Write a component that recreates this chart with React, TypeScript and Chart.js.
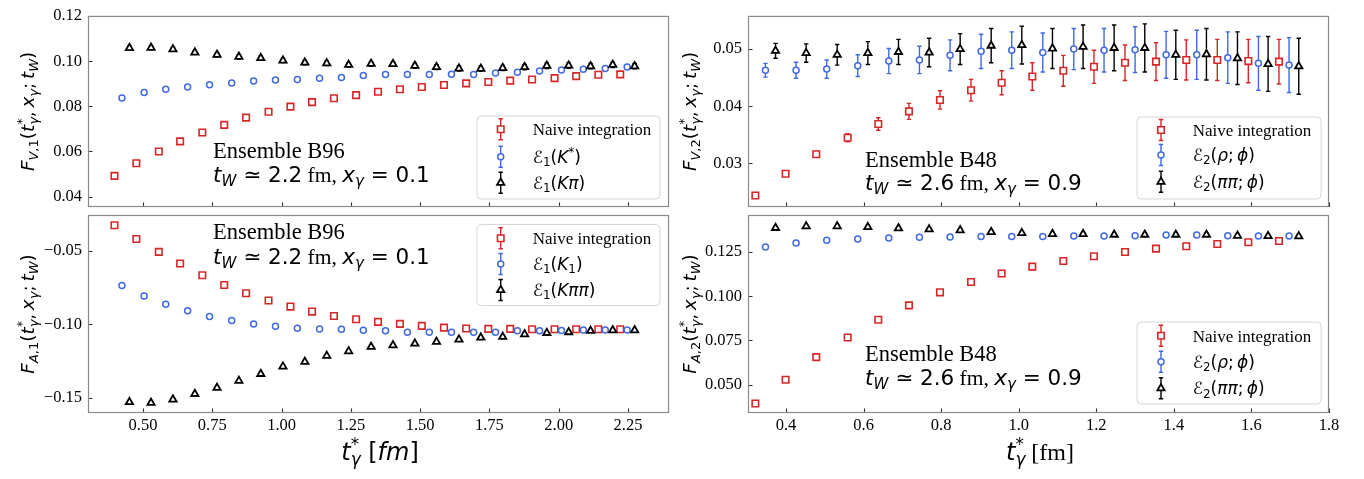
import React, { useEffect, useRef } from 'react';
import { Chart, registerables } from 'chart.js';

Chart.register(...registerables);

const W = 1364;
const H = 479;
const RED = '#d62728';
const BLUE = '#4169e1';
const BLACK = '#000000';

// ---------------- x positions t*_gamma [fm] ----------------
const tNaiveB96 = [0.397, 0.476, 0.557, 0.634, 0.714, 0.793, 0.872, 0.953, 1.032, 1.110, 1.189, 1.269, 1.348, 1.427, 1.506, 1.586, 1.666, 1.746, 1.825, 1.904, 1.985, 2.063, 2.143, 2.222];
const tPoleB96 = [0.424, 0.504, 0.582, 0.661, 0.740, 0.820, 0.899, 0.978, 1.057, 1.137, 1.216, 1.295, 1.375, 1.454, 1.533, 1.613, 1.693, 1.772, 1.851, 1.931, 2.010, 2.089, 2.168, 2.247];
const tMultiB96 = [0.451, 0.529, 0.608, 0.687, 0.767, 0.846, 0.925, 1.005, 1.084, 1.163, 1.242, 1.323, 1.402, 1.481, 1.559, 1.640, 1.719, 1.798, 1.877, 1.957, 2.036, 2.115, 2.195, 2.274];
const tNaiveB48 = [0.321, 0.399, 0.478, 0.559, 0.638, 0.717, 0.797, 0.877, 0.956, 1.035, 1.115, 1.194, 1.274, 1.354, 1.432, 1.512, 1.592, 1.671];
const tPoleB48 = [0.347, 0.426, 0.505, 0.585, 0.665, 0.744, 0.823, 0.903, 0.982, 1.062, 1.142, 1.220, 1.300, 1.380, 1.459, 1.539, 1.618, 1.697];
const tMultiB48 = [0.373, 0.452, 0.532, 0.611, 0.690, 0.769, 0.849, 0.929, 1.008, 1.087, 1.166, 1.246, 1.325, 1.405, 1.484, 1.564, 1.643, 1.722];

// ---------------- F_V,1 (B96) ----------------
const fV1Naive = [0.0492, 0.0548, 0.0600, 0.0645, 0.0684, 0.0718, 0.0750, 0.0776, 0.0799, 0.0819, 0.0836, 0.0850, 0.0865, 0.0876, 0.0886, 0.0895, 0.0902, 0.0908, 0.0914, 0.0919, 0.0925, 0.0934, 0.0940, 0.0942];
const fV1NaiveErr = [0.0003, 0.0003, 0.0003, 0.0004, 0.0004, 0.0004, 0.0004, 0.0004, 0.0004, 0.0004, 0.0004, 0.0005, 0.0005, 0.0005, 0.0005, 0.0005, 0.0005, 0.0005, 0.0005, 0.0005, 0.0005, 0.0005, 0.0005, 0.0005];
const fV1Kstar = [0.0837, 0.0862, 0.0876, 0.0886, 0.0896, 0.0904, 0.0912, 0.0917, 0.0919, 0.0925, 0.0928, 0.0937, 0.0941, 0.0941, 0.0941, 0.0942, 0.0941, 0.0948, 0.0951, 0.0957, 0.0961, 0.0964, 0.0968, 0.0974];
const fV1KstarErr = [0.0005, 0.0005, 0.0005, 0.0005, 0.0005, 0.0005, 0.0006, 0.0006, 0.0006, 0.0006, 0.0006, 0.0006, 0.0006, 0.0006, 0.0007, 0.0007, 0.0007, 0.0007, 0.0007, 0.0007, 0.0007, 0.0007, 0.0008, 0.0008];
const fV1Kpi = [0.1059, 0.1060, 0.1053, 0.1039, 0.1029, 0.1020, 0.1014, 0.1003, 0.0994, 0.0991, 0.0984, 0.0989, 0.0988, 0.0980, 0.0974, 0.0968, 0.0967, 0.0970, 0.0974, 0.0980, 0.0981, 0.0978, 0.0984, 0.0978];
const fV1KpiErr = [0.0008, 0.0008, 0.0008, 0.0008, 0.0009, 0.0009, 0.0009, 0.0009, 0.0010, 0.0010, 0.0010, 0.0010, 0.0010, 0.0011, 0.0011, 0.0011, 0.0011, 0.0011, 0.0012, 0.0012, 0.0012, 0.0012, 0.0012, 0.0012];

// ---------------- F_V,2 (B48) ----------------
const fV2Naive = [0.0244, 0.0282, 0.0316, 0.0345, 0.0369, 0.0391, 0.0411, 0.0428, 0.0441, 0.0452, 0.0462, 0.0469, 0.0476, 0.0478, 0.0481, 0.0481, 0.0479, 0.0478];
const fV2NaiveErr = [0.0003, 0.0004, 0.0005, 0.0007, 0.0011, 0.0014, 0.0016, 0.0019, 0.0021, 0.0024, 0.0027, 0.0029, 0.0031, 0.0033, 0.0035, 0.0036, 0.0038, 0.0039];
const fV2Rho = [0.0463, 0.0463, 0.0465, 0.0471, 0.0479, 0.0481, 0.0489, 0.0496, 0.0498, 0.0494, 0.0500, 0.0498, 0.0499, 0.0490, 0.0490, 0.0485, 0.0475, 0.0472];
const fV2RhoErr = [0.0012, 0.0014, 0.0016, 0.0019, 0.0022, 0.0024, 0.0027, 0.0030, 0.0032, 0.0034, 0.0036, 0.0038, 0.0040, 0.0041, 0.0043, 0.0045, 0.0047, 0.0048];
const fV2PiPi = [0.0497, 0.0493, 0.0490, 0.0493, 0.0495, 0.0494, 0.0500, 0.0506, 0.0507, 0.0501, 0.0504, 0.0502, 0.0502, 0.0490, 0.0491, 0.0484, 0.0474, 0.0470];
const fV2PiPiErr = [0.0013, 0.0016, 0.0018, 0.0020, 0.0022, 0.0025, 0.0027, 0.0030, 0.0033, 0.0035, 0.0038, 0.0040, 0.0042, 0.0043, 0.0045, 0.0046, 0.0048, 0.0049];

// ---------------- F_A,1 (B96) ----------------
const fA1Naive = [-0.0327, -0.0420, -0.0508, -0.0587, -0.0667, -0.0733, -0.0789, -0.0839, -0.0880, -0.0914, -0.0944, -0.0966, -0.0984, -0.0998, -0.1011, -0.1023, -0.1029, -0.1032, -0.1032, -0.1034, -0.1034, -0.1034, -0.1034, -0.1034];
const fA1NaiveErr = [0.0005, 0.0005, 0.0005, 0.0005, 0.0005, 0.0005, 0.0005, 0.0005, 0.0005, 0.0005, 0.0005, 0.0005, 0.0005, 0.0005, 0.0005, 0.0005, 0.0005, 0.0005, 0.0005, 0.0005, 0.0005, 0.0005, 0.0005, 0.0005];
const fA1K1 = [-0.0737, -0.0808, -0.0864, -0.0909, -0.0948, -0.0975, -0.0998, -0.1014, -0.1027, -0.1032, -0.1034, -0.1041, -0.1045, -0.1054, -0.1054, -0.1054, -0.1054, -0.1054, -0.1045, -0.1045, -0.1043, -0.1039, -0.1039, -0.1039];
const fA1K1Err = [0.0006, 0.0006, 0.0006, 0.0006, 0.0006, 0.0006, 0.0006, 0.0006, 0.0006, 0.0006, 0.0006, 0.0006, 0.0006, 0.0006, 0.0006, 0.0006, 0.0006, 0.0006, 0.0006, 0.0006, 0.0006, 0.0006, 0.0006, 0.0006];
const fA1Kpipi = [-0.1530, -0.1535, -0.1512, -0.1474, -0.1433, -0.1385, -0.1338, -0.1288, -0.1256, -0.1215, -0.1184, -0.1154, -0.1143, -0.1132, -0.1120, -0.1104, -0.1091, -0.1086, -0.1068, -0.1059, -0.1054, -0.1045, -0.1041, -0.1041];
const fA1KpipiErr = [0.0008, 0.0008, 0.0008, 0.0008, 0.0008, 0.0008, 0.0008, 0.0008, 0.0008, 0.0008, 0.0008, 0.0008, 0.0008, 0.0008, 0.0008, 0.0008, 0.0008, 0.0008, 0.0008, 0.0008, 0.0008, 0.0008, 0.0008, 0.0008];

// ---------------- F_A,2 (B48) ----------------
const fA2Naive = [0.0394, 0.0528, 0.0656, 0.0767, 0.0867, 0.0948, 0.1022, 0.1080, 0.1128, 0.1167, 0.1199, 0.1226, 0.1250, 0.1269, 0.1282, 0.1295, 0.1305, 0.1312];
const fA2NaiveErr = [0.0006, 0.0006, 0.0006, 0.0006, 0.0006, 0.0006, 0.0006, 0.0006, 0.0006, 0.0006, 0.0006, 0.0006, 0.0006, 0.0006, 0.0006, 0.0006, 0.0006, 0.0006];
const fA2Rho = [0.1278, 0.1301, 0.1316, 0.1324, 0.1329, 0.1333, 0.1335, 0.1337, 0.1337, 0.1337, 0.1340, 0.1340, 0.1342, 0.1346, 0.1346, 0.1342, 0.1340, 0.1340];
const fA2RhoErr = [0.0007, 0.0007, 0.0007, 0.0007, 0.0007, 0.0007, 0.0007, 0.0007, 0.0007, 0.0007, 0.0007, 0.0007, 0.0007, 0.0007, 0.0007, 0.0007, 0.0007, 0.0007];
const fA2PiPi = [0.1386, 0.1395, 0.1395, 0.1391, 0.1384, 0.1378, 0.1373, 0.1363, 0.1357, 0.1352, 0.1352, 0.1348, 0.1348, 0.1348, 0.1348, 0.1342, 0.1340, 0.1339];
const fA2PiPiErr = [0.0008, 0.0008, 0.0008, 0.0008, 0.0008, 0.0008, 0.0008, 0.0008, 0.0008, 0.0008, 0.0008, 0.0008, 0.0008, 0.0008, 0.0008, 0.0008, 0.0008, 0.0008];

// ---------------- ticks ----------------
const xTicksB96 = [0.5, 0.75, 1.0, 1.25, 1.5, 1.75, 2.0, 2.25];
const xTickLabelsB96 = ['0.50', '0.75', '1.00', '1.25', '1.50', '1.75', '2.00', '2.25'];
const xTicksB48 = [0.4, 0.6, 0.8, 1.0, 1.2, 1.4, 1.6, 1.8];
const xTickLabelsB48 = ['0.4', '0.6', '0.8', '1.0', '1.2', '1.4', '1.6', '1.8'];
const yTicksFV1 = [0.04, 0.06, 0.08, 0.10, 0.12];
const yTickLabelsFV1 = ['0.04', '0.06', '0.08', '0.10', '0.12'];
const yTicksFV2 = [0.03, 0.04, 0.05];
const yTickLabelsFV2 = ['0.03', '0.04', '0.05'];
const yTicksFA1 = [-0.15, -0.10, -0.05];
const yTickLabelsFA1 = ['\u22120.15', '\u22120.10', '\u22120.05'];
const yTicksFA2 = [0.05, 0.075, 0.1, 0.125];
const yTickLabelsFA2 = ['0.050', '0.075', '0.100', '0.125'];

// ---------------- rich text ----------------
type Tok = { t: string; f: 'mi' | 'mr' | 'sf'; s?: number; dy?: number; hold?: boolean };
const mi = (t: string): Tok => ({ t, f: 'mi' });
const mr = (t: string): Tok => ({ t, f: 'mr' });
const sf = (t: string): Tok => ({ t, f: 'sf' });
const sb = (t: string, f: 'mi' | 'mr' = 'mi'): Tok => ({ t, f, s: 0.7, dy: 0.2 });
const sp = (t: string, hold = false): Tok => ({ t, f: 'mr', s: 0.7, dy: -0.42, hold });

function tokFont(k: Tok, base: number) {
  const sz = (base * (k.s ?? 1)).toFixed(2);
  if (k.f === 'mi') return `italic ${sz}px "DejaVu Sans"`;
  if (k.f === 'mr') return `${sz}px "DejaVu Sans"`;
  return `${sz}px "Liberation Serif"`;
}

function drawRich(ctx: CanvasRenderingContext2D, toks: Tok[], base: number, x: number, y: number, align: 'left' | 'center', color = '#000') {
  const items: { k: Tok; x: number; font: string }[] = [];
  let cx = 0;
  let held = 0;
  for (const k of toks) {
    const font = tokFont(k, base);
    ctx.font = font;
    const w = ctx.measureText(k.t).width;
    items.push({ k, x: cx, font });
    if (k.hold) held = Math.max(held, w);
    else {
      cx += Math.max(held, w);
      held = 0;
    }
  }
  const x0 = align === 'center' ? x - cx / 2 : x;
  ctx.textAlign = 'left';
  ctx.textBaseline = 'alphabetic';
  ctx.fillStyle = color;
  for (const it of items) {
    ctx.font = it.font;
    ctx.fillText(it.k.t, x0 + it.x, y + (it.k.dy ?? 0) * base);
  }
}

const TH = '\u2009';
const yTitleTok = (a: string, n: string): Tok[] => [
  mi('F'), sb(a), sb(',', 'mr'), sb(n, 'mr'), mr('('), mi('t'), sp('*', true), sb('\u03b3'),
  mr(',' + TH), mi('x'), sb('\u03b3'), mr(';' + TH), mi('t'), sb('W'), mr(')'),
];
const noteTok = (tw: string, xg: string): Tok[] => [
  mi('t'), sb('W'), mr(' \u2243 '), mr(tw), sf(' fm, '), mi('x'), sb('\u03b3'), mr(' = '), mr(xg),
];
const xTitleLeft: Tok[] = [mi('t'), sp('*', true), sb('\u03b3'), mr(' ['), mi('fm'), mr(']')];
const xTitleRight: Tok[] = [mi('t'), sp('*', true), sb('\u03b3'), sf(' [fm]')];

const E = '\u2130';
const legNaive: Tok[] = [sf('Naive integration')];
const legKstar: Tok[] = [mr(E), sb('1', 'mr'), mr('('), mi('K'), sp('*'), mr(')')];
const legKpi: Tok[] = [mr(E), sb('1', 'mr'), mr('('), mi('K\u03c0'), mr(')')];
const legK1: Tok[] = [mr(E), sb('1', 'mr'), mr('('), mi('K'), sb('1', 'mr'), mr(')')];
const legKpipi: Tok[] = [mr(E), sb('1', 'mr'), mr('('), mi('K\u03c0\u03c0'), mr(')')];
const legRho: Tok[] = [mr(E), sb('2', 'mr'), mr('('), mi('\u03c1'), mr(';' + TH), mi('\u03d5'), mr(')')];
const legPiPi: Tok[] = [mr(E), sb('2', 'mr'), mr('('), mi('\u03c0\u03c0'), mr(';' + TH), mi('\u03d5'), mr(')')];

// ---------------- panels ----------------
type Series = { x: number[]; y: number[]; e: number[]; color: string; style: 'rect' | 'circle' | 'triangle'; r: number; lw: number };
interface Panel {
  area: { l: number; t: number; r: number; b: number };
  xMin: number; xMax: number; yMin: number; yMax: number;
  xTicks: number[]; xLabels: string[]; showX: boolean; xH: number;
  yTicks: number[]; yLabels: string[];
  series: Series[];
  yTitle: Tok[]; yTitleX: number;
  xTitle?: Tok[]; xTitleX?: number; xTitleY?: number;
  note: { x: number; y1: number; y2: number; line1: string; line2: Tok[] };
  legend: { x: number; y: number; w: number; h: number; mx: number; tx: number; rows: number[]; labels: Tok[][] };
}

const sq = (x: number[], y: number[], e: number[]): Series => ({ x, y, e, color: RED, style: 'rect', r: 4.6, lw: 1.6 });
const ci = (x: number[], y: number[], e: number[]): Series => ({ x, y, e, color: BLUE, style: 'circle', r: 3, lw: 1.5 });
const tr = (x: number[], y: number[], e: number[]): Series => ({ x, y, e, color: BLACK, style: 'triangle', r: 4.2, lw: 1.8 });

const PANELS: Panel[] = [
  {
    area: { l: 88, t: 11, r: 669, b: 207 },
    xMin: 0.3015, xMax: 2.398, yMin: 0.0354, yMax: 0.1201,
    xTicks: xTicksB96, xLabels: xTickLabelsB96, showX: false, xH: 0,
    yTicks: yTicksFV1, yLabels: yTickLabelsFV1,
    series: [sq(tNaiveB96, fV1Naive, fV1NaiveErr), ci(tPoleB96, fV1Kstar, fV1KstarErr), tr(tMultiB96, fV1Kpi, fV1KpiErr)],
    yTitle: yTitleTok('V', '1'), yTitleX: 34,
    note: { x: 213, y1: 157.7, y2: 181.7, line1: 'Ensemble B96', line2: noteTok('2.2', '0.1') },
    legend: { x: 477, y: 116, w: 183, h: 83, mx: 500.7, tx: 532.7, rows: [129.3, 156.7, 182.7], labels: [legNaive, legKstar, legKpi] },
  },
  {
    area: { l: 748, t: 11, r: 1329, b: 207 },
    xMin: 0.302, xMax: 1.8, yMin: 0.02238, yMax: 0.0558,
    xTicks: xTicksB48, xLabels: xTickLabelsB48, showX: false, xH: 0,
    yTicks: yTicksFV2, yLabels: yTickLabelsFV2,
    series: [sq(tNaiveB48, fV2Naive, fV2NaiveErr), ci(tPoleB48, fV2Rho, fV2RhoErr), tr(tMultiB48, fV2PiPi, fV2PiPiErr)],
    yTitle: yTitleTok('V', '2'), yTitleX: 696,
    note: { x: 865, y1: 166.7, y2: 190, line1: 'Ensemble B48', line2: noteTok('2.6', '0.9') },
    legend: { x: 1137, y: 117, w: 184, h: 82, mx: 1161, tx: 1192.7, rows: [130, 155, 181.7], labels: [legNaive, legRho, legPiPi] },
  },
  {
    area: { l: 88, t: 215, r: 669, b: 413 },
    xMin: 0.3015, xMax: 2.398, yMin: -0.1604, yMax: -0.0257,
    xTicks: xTicksB96, xLabels: xTickLabelsB96, showX: true, xH: 30,
    yTicks: yTicksFA1, yLabels: yTickLabelsFA1,
    series: [sq(tNaiveB96, fA1Naive, fA1NaiveErr), ci(tPoleB96, fA1K1, fA1K1Err), tr(tMultiB96, fA1Kpipi, fA1KpipiErr)],
    yTitle: yTitleTok('A', '1'), yTitleX: 34,
    xTitle: xTitleLeft, xTitleX: 380, xTitleY: 460,
    note: { x: 213, y1: 239.3, y2: 264, line1: 'Ensemble B96', line2: noteTok('2.2', '0.1') },
    legend: { x: 477, y: 224.5, w: 183, h: 81, mx: 500.7, tx: 532.7, rows: [238.3, 264, 290], labels: [legNaive, legK1, legKpipi] },
  },
  {
    area: { l: 748, t: 215, r: 1329, b: 413 },
    xMin: 0.302, xMax: 1.8, yMin: 0.034, yMax: 0.1459,
    xTicks: xTicksB48, xLabels: xTickLabelsB48, showX: true, xH: 30,
    yTicks: yTicksFA2, yLabels: yTickLabelsFA2,
    series: [sq(tNaiveB48, fA2Naive, fA2NaiveErr), ci(tPoleB48, fA2Rho, fA2RhoErr), tr(tMultiB48, fA2PiPi, fA2PiPiErr)],
    yTitle: yTitleTok('A', '2'), yTitleX: 696,
    xTitle: xTitleRight, xTitleX: 1040, xTitleY: 460,
    note: { x: 865, y1: 360.7, y2: 385, line1: 'Ensemble B48', line2: noteTok('2.6', '0.9') },
    legend: { x: 1137, y: 322, w: 184, h: 82, mx: 1161, tx: 1192.7, rows: [335.7, 361.7, 388.3], labels: [legNaive, legRho, legPiPi] },
  },
];

const Y_W = 60;
const TICK_FONT = { family: '"Liberation Serif"', size: 16.5 };

function drawMarker(ctx: CanvasRenderingContext2D, s: Series, x: number, y: number) {
  const r = s.r;
  ctx.beginPath();
  if (s.style === 'rect') {
    const h = Math.SQRT1_2 * r;
    ctx.rect(x - h, y - h, 2 * h, 2 * h);
  } else if (s.style === 'circle') {
    ctx.arc(x, y, r, 0, Math.PI * 2);
  } else {
    ctx.moveTo(x, y - r);
    ctx.lineTo(x + 0.866 * r, y + 0.5 * r);
    ctx.lineTo(x - 0.866 * r, y + 0.5 * r);
    ctx.closePath();
  }
  ctx.fillStyle = '#ffffff';
  ctx.fill();
  ctx.strokeStyle = s.color;
  ctx.lineWidth = s.lw;
  ctx.stroke();
}

function drawBar(ctx: CanvasRenderingContext2D, x: number, y1: number, y2: number, color: string) {
  ctx.strokeStyle = color;
  ctx.lineWidth = 1.4;
  ctx.beginPath();
  ctx.moveTo(x, y1);
  ctx.lineTo(x, y2);
  ctx.moveTo(x - 2.2, y1);
  ctx.lineTo(x + 2.2, y1);
  ctx.moveTo(x - 2.2, y2);
  ctx.lineTo(x + 2.2, y2);
  ctx.stroke();
}

function makePlugin(p: Panel) {
  return {
    id: 'panelDecor',
    beforeDatasetDraw(chart: any, args: any) {
      const s = p.series[args.index];
      if (!s) return;
      const ctx: CanvasRenderingContext2D = chart.ctx;
      const xs = chart.scales.x;
      const ys = chart.scales.y;
      const ca = chart.chartArea;
      ctx.save();
      ctx.beginPath();
      ctx.rect(ca.left, ca.top, ca.right - ca.left, ca.bottom - ca.top);
      ctx.clip();
      for (let i = 0; i < s.x.length; i++) {
        const px = xs.getPixelForValue(s.x[i]);
        drawBar(ctx, px, ys.getPixelForValue(s.y[i] + s.e[i]), ys.getPixelForValue(s.y[i] - s.e[i]), s.color);
      }
      ctx.restore();
    },
    afterDraw(chart: any) {
      const ctx: CanvasRenderingContext2D = chart.ctx;
      const ca = chart.chartArea;
      const xs = chart.scales.x;
      const ys = chart.scales.y;
      ctx.save();
      // inward ticks
      ctx.strokeStyle = '#333333';
      ctx.lineWidth = 1.1;
      ctx.beginPath();
      for (const v of p.xTicks) {
        const px = Math.round(xs.getPixelForValue(v)) + 0.5;
        ctx.moveTo(px, ca.bottom);
        ctx.lineTo(px, ca.bottom - 4.5);
      }
      for (const v of p.yTicks) {
        const py = Math.round(ys.getPixelForValue(v)) + 0.5;
        ctx.moveTo(ca.left, py);
        ctx.lineTo(ca.left + 4.5, py);
      }
      ctx.stroke();
      // frame
      ctx.strokeStyle = '#8a8a8a';
      ctx.lineWidth = 1.2;
      ctx.strokeRect(ca.left + 0.5, ca.top + 0.5, ca.right - ca.left - 1, ca.bottom - ca.top - 1);
      // annotation
      ctx.fillStyle = '#000';
      ctx.font = '22.5px "Liberation Serif"';
      ctx.textAlign = 'left';
      ctx.textBaseline = 'alphabetic';
      ctx.fillText(p.note.line1, p.note.x, p.note.y1);
      drawRich(ctx, p.note.line2, 21.5, p.note.x, p.note.y2, 'left');
      // legend
      const L = p.legend;
      const rr = 4;
      ctx.beginPath();
      ctx.moveTo(L.x + rr, L.y);
      ctx.lineTo(L.x + L.w - rr, L.y);
      ctx.quadraticCurveTo(L.x + L.w, L.y, L.x + L.w, L.y + rr);
      ctx.lineTo(L.x + L.w, L.y + L.h - rr);
      ctx.quadraticCurveTo(L.x + L.w, L.y + L.h, L.x + L.w - rr, L.y + L.h);
      ctx.lineTo(L.x + rr, L.y + L.h);
      ctx.quadraticCurveTo(L.x, L.y + L.h, L.x, L.y + L.h - rr);
      ctx.lineTo(L.x, L.y + rr);
      ctx.quadraticCurveTo(L.x, L.y, L.x + rr, L.y);
      ctx.closePath();
      ctx.fillStyle = 'rgba(255,255,255,0.8)';
      ctx.fill();
      ctx.strokeStyle = '#d6d6d6';
      ctx.lineWidth = 1;
      ctx.stroke();
      L.rows.forEach((ry, i) => {
        const s = p.series[i];
        drawBar(ctx, L.mx, ry - 10.5, ry + 10.5, s.color);
        drawMarker(ctx, s, L.mx, ry);
        drawRich(ctx, L.labels[i], 17, L.tx, ry + 6, 'left');
      });
      // y title
      ctx.save();
      ctx.translate(p.yTitleX, (ca.top + ca.bottom) / 2);
      ctx.rotate(-Math.PI / 2);
      drawRich(ctx, p.yTitle, 18.5, 0, 0, 'center');
      ctx.restore();
      // x title
      if (p.xTitle) drawRich(ctx, p.xTitle, 24, p.xTitleX!, p.xTitleY!, 'center');
      ctx.restore();
    },
  };
}

function buildConfig(p: Panel): any {
  return {
    type: 'scatter',
    data: {
      datasets: p.series.map((s, i) => ({
        data: s.x.map((x, j) => ({ x, y: s.y[j] })),
        showLine: false,
        pointStyle: s.style,
        pointRadius: s.r,
        pointHoverRadius: s.r,
        pointBorderWidth: s.lw,
        pointBorderColor: s.color,
        pointBackgroundColor: '#ffffff',
        order: 3 - i,
      })),
    },
    options: {
      responsive: false,
      animation: false,
      events: [],
      layout: {
        padding: { left: p.area.l - Y_W, top: p.area.t, right: W - p.area.r, bottom: H - p.area.b - p.xH },
      },
      plugins: { legend: { display: false }, tooltip: { enabled: false }, title: { display: false } },
      scales: {
        x: {
          type: 'linear',
          min: p.xMin,
          max: p.xMax,
          grid: { display: false, drawTicks: false },
          border: { display: false },
          afterBuildTicks: (s: any) => { s.ticks = p.xTicks.map((v) => ({ value: v })); },
          afterFit: (s: any) => { s.height = p.xH; },
          ticks: {
            display: p.showX,
            padding: 3,
            autoSkip: false,
            maxRotation: 0,
            color: '#000',
            font: TICK_FONT,
            callback: (_v: any, i: number) => p.xLabels[i],
          },
        },
        y: {
          type: 'linear',
          min: p.yMin,
          max: p.yMax,
          grid: { display: false, drawTicks: false },
          border: { display: false },
          afterBuildTicks: (s: any) => { s.ticks = p.yTicks.map((v) => ({ value: v })); },
          afterFit: (s: any) => { s.width = Y_W; },
          ticks: {
            padding: 6,
            autoSkip: false,
            color: '#000',
            font: TICK_FONT,
            callback: (_v: any, i: number) => p.yLabels[i],
          },
        },
      },
    },
    plugins: [makePlugin(p)],
  };
}

export default function App() {
  const canvases = useRef<(HTMLCanvasElement | null)[]>([]);
  useEffect(() => {
    const charts = PANELS.map((p, i) => new Chart(canvases.current[i] as HTMLCanvasElement, buildConfig(p)));
    return () => charts.forEach((c) => c.destroy());
  }, []);
  return (
    <div style={{ position: 'absolute', left: 0, top: 0, width: W, height: H, background: '#ffffff', overflow: 'hidden' }}>
      {PANELS.map((_p, i) => (
        <canvas
          key={i}
          ref={(el) => { canvases.current[i] = el; }}
          width={W}
          height={H}
          style={{ position: 'absolute', left: 0, top: 0, width: W, height: H }}
        />
      ))}
    </div>
  );
}
